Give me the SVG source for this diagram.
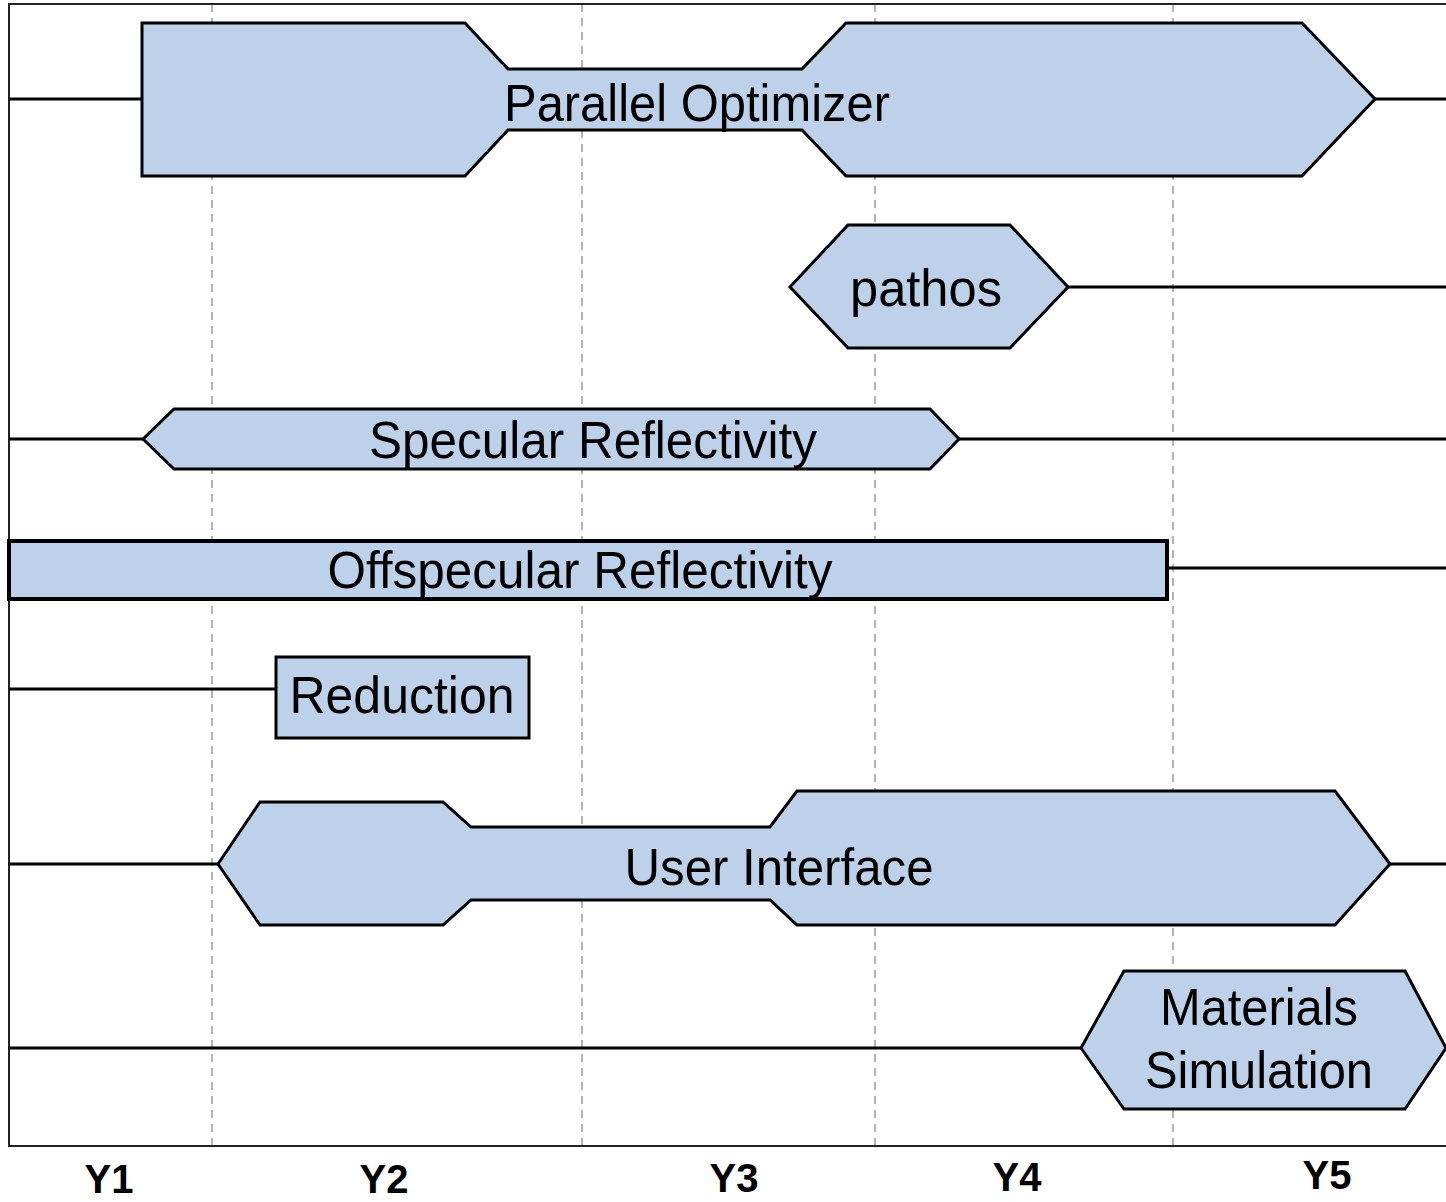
<svg xmlns="http://www.w3.org/2000/svg" width="1446" height="1202" viewBox="0 0 1446 1202">
<style>
.frame{fill:none;stroke:#222;stroke-width:2}
.grid{stroke:#9a9a9a;stroke-width:1.5;stroke-dasharray:8 6;fill:none}
.conn{stroke:#000;stroke-width:3;fill:none}
.node{fill:#bdd1eb;stroke:#000;stroke-width:3;stroke-linejoin:miter}
.lbl{font-family:"Liberation Sans",Arial,sans-serif;font-size:52px;fill:#000;text-anchor:middle}
.ax{font-family:"Liberation Sans",Arial,sans-serif;font-size:40px;font-weight:bold;fill:#000;text-anchor:middle}
</style>
<rect x="0" y="0" width="1446" height="1202" fill="#fff"/>
<g id="grid">
<line class="grid" x1="212" y1="4" x2="212" y2="1146"/>
<line class="grid" x1="582" y1="4" x2="582" y2="1146"/>
<line class="grid" x1="875" y1="4" x2="875" y2="1146"/>
<line class="grid" x1="1173" y1="4" x2="1173" y2="1146"/>
</g>
<g id="frame">
<path class="frame" d="M1446,4 H9 V1146 H1446"/>
</g>
<g id="connectors">
<line class="conn" x1="9" y1="99" x2="142" y2="99"/>
<line class="conn" x1="1375" y1="99" x2="1446" y2="99"/>
<line class="conn" x1="1068" y1="287" x2="1446" y2="287"/>
<line class="conn" x1="9" y1="439" x2="143" y2="439"/>
<line class="conn" x1="959" y1="439" x2="1446" y2="439"/>
<line class="conn" x1="1167" y1="568" x2="1446" y2="568"/>
<line class="conn" x1="9" y1="689" x2="276" y2="689"/>
<line class="conn" x1="9" y1="864" x2="218" y2="864"/>
<line class="conn" x1="1390" y1="864" x2="1446" y2="864"/>
<line class="conn" x1="9" y1="1048" x2="1081" y2="1048"/>
</g>
<g id="parallel-optimizer">
<polygon class="node" points="142,23 465,23 508,69 802,69 846,23 1302,23 1375,99 1302,176 846,176 802,130 508,130 465,176 142,176"/>
<text class="lbl" x="697" y="121" textLength="386" lengthAdjust="spacingAndGlyphs">Parallel Optimizer</text>
</g>
<g id="pathos">
<polygon class="node" points="790,287 848,225 1010,225 1068,287 1010,348 848,348"/>
<text class="lbl" x="926" y="306" textLength="152" lengthAdjust="spacingAndGlyphs">pathos</text>
</g>
<g id="specular-reflectivity">
<polygon class="node" points="143,439 174,409 930,409 959,439 930,469 174,469"/>
<text class="lbl" x="593" y="458" textLength="448" lengthAdjust="spacingAndGlyphs">Specular Reflectivity</text>
</g>
<g id="offspecular-reflectivity">
<rect class="node" x="9" y="541" width="1158" height="58" style="stroke-width:4"/>
<text class="lbl" x="580" y="588" textLength="505" lengthAdjust="spacingAndGlyphs">Offspecular Reflectivity</text>
</g>
<g id="reduction">
<rect class="node" x="276" y="657" width="253" height="81"/>
<text class="lbl" x="402" y="713" textLength="225" lengthAdjust="spacingAndGlyphs">Reduction</text>
</g>
<g id="user-interface">
<polygon class="node" points="218,864 260,802 443,802 471,827 770,827 797,791 1335,791 1390,864 1335,925 797,925 770,900 471,900 443,925 260,925"/>
<text class="lbl" x="779" y="885" textLength="309" lengthAdjust="spacingAndGlyphs">User Interface</text>
</g>
<g id="materials-simulation">
<polygon class="node" points="1081,1048 1124,971 1405,971 1446,1048 1405,1109 1124,1109"/>
<text class="lbl" x="1259" y="1025" textLength="198" lengthAdjust="spacingAndGlyphs">Materials</text>
<text class="lbl" x="1259" y="1088" textLength="228" lengthAdjust="spacingAndGlyphs">Simulation</text>
</g>
<g id="axis-labels">
<text class="ax" x="109" y="1193">Y1</text>
<text class="ax" x="384" y="1193">Y2</text>
<text class="ax" x="734" y="1192">Y3</text>
<text class="ax" x="1017" y="1191">Y4</text>
<text class="ax" x="1327" y="1189">Y5</text>
</g>
</svg>
